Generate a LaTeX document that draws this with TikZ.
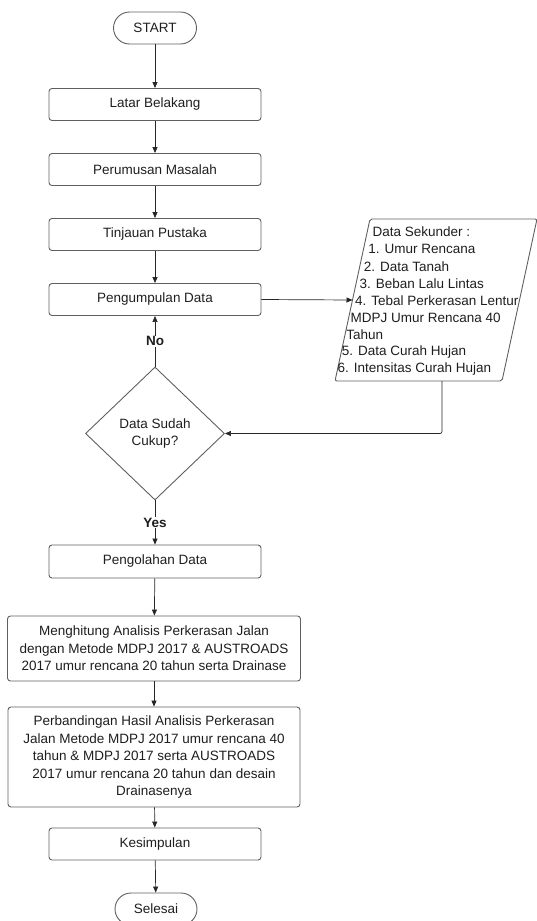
\documentclass[tikz,border=0pt]{standalone}
\usepackage{fontspec}
\setmainfont{Liberation Sans}
\usetikzlibrary{shapes.geometric, arrows.meta, positioning, calc}
\definecolor{edgegray}{RGB}{95,95,95}
\definecolor{textdark}{RGB}{30,30,30}

\begin{document}
\begin{tikzpicture}[x=1pt, y=-1pt,
        proc/.style={rectangle, rounded corners=3pt, draw=edgegray, line width=0.9pt, font=\fontsize{13.5}{17.5}\selectfont, text=textdark, minimum width=212pt, minimum height=32pt, align=center, inner sep=2pt},
        term/.style={proc, rounded corners=16pt, minimum width=83pt},
        decide/.style={diamond, draw=edgegray, line width=0.9pt, font=\fontsize{13.5}{17.5}\selectfont, text=textdark, minimum width=139pt, minimum height=133pt, align=center, inner sep=0pt},
        lbl/.style={font=\fontsize{13.5}{16}\selectfont\bfseries, text=textdark, fill=white, inner sep=1pt},
        sektext/.style={anchor=west, font=\fontsize{13.5}{16}\selectfont, text=textdark, inner xsep=0.5pt, inner ysep=0pt},
        arr/.style={-{Triangle[length=6pt, width=5pt]}, line width=0.7pt, draw=black!85}
    ]
        \useasboundingbox (0,0) rectangle (536,921);

        % Main flow
        \node[term] (start) at (155,28) {START};
        \node[proc] (latar) at (155,104.5) {Latar Belakang};
        \node[proc] (rumus) at (155,169.5) {Perumusan Masalah};
        \node[proc] (tinjau) at (155,234.5) {Tinjauan Pustaka};
        \node[proc] (kumpul) at (155,299.5) {Pengumpulan Data};
        \node[decide] (cek) at (155,433.5) {Data Sudah\\Cukup?};
        \node[proc, minimum height=33pt] (olah) at (155,561.5) {Pengolahan Data};
        \node[proc, minimum width=293pt, minimum height=65pt] (hitung) at (154,648.5) {Menghitung Analisis Perkerasan Jalan\\dengan Metode MDPJ 2017 \& AUSTROADS\\2017 umur rencana 20 tahun serta Drainase};
        \node[proc, minimum width=292pt, minimum height=100pt] (banding) at (154,757) {Perbandingan Hasil Analisis Perkerasan\\Jalan Metode MDPJ 2017 umur rencana 40\\tahun \& MDPJ 2017 serta AUSTROADS\\2017 umur rencana 20 tahun dan desain\\Drainasenya};
        \node[proc] (simpul) at (155,844) {Kesimpulan};
        \node[term, minimum width=82pt] (selesai) at (156,909) {Selesai};

        % Data sekunder (parallelogram)
        \coordinate (sekTL) at (370,219);
        \coordinate (sekTR) at (537,219);
        \coordinate (sekBR) at (502,381);
        \coordinate (sekBL) at (335,381);
        \draw[draw=edgegray, line width=0.9pt, rounded corners=2pt] (sekTL) -- (sekTR) -- (sekBR) -- (sekBL) -- cycle;
        \coordinate (sekin) at ($(sekTL)!0.5!(sekBL)$);
        \coordinate (sekout) at (442,381);

        \foreach \txt [count=\i] in {Data Sekunder :,1. Umur Rencana,2. Data Tanah,3. Beban Lalu Lintas,4. Tebal Perkerasan Lentur,MDPJ Umur Rencana 40,Tahun,5. Data Curah Hujan,6. Intensitas Curah Hujan} {
            \node[sektext] (sek\i) at ({372-4.4*(\i-1)}, {232+17.1*(\i-1)}) {\txt};
        }

        % Connectors
        \draw[arr] (start) -- (latar);
        \draw[arr] (latar) -- (rumus);
        \draw[arr] (rumus) -- (tinjau);
        \draw[arr] (tinjau) -- (kumpul);
        \draw[arr] (kumpul.east) -- (sekin);
        \draw[arr, rounded corners=2pt] (sekout) |- (cek.east);
        \draw[arr] (cek.north) -- node[lbl] (no) {No} (kumpul.south);
        \draw[arr] (cek.south) -- node[lbl] (yes) {Yes} (olah.north);
        \draw[arr] (olah) -- (hitung);
        \draw[arr] (hitung) -- (banding);
        \draw[arr] (banding) -- (simpul);
        \draw[arr] (simpul) -- (selesai);
    \end{tikzpicture}
\end{document}
